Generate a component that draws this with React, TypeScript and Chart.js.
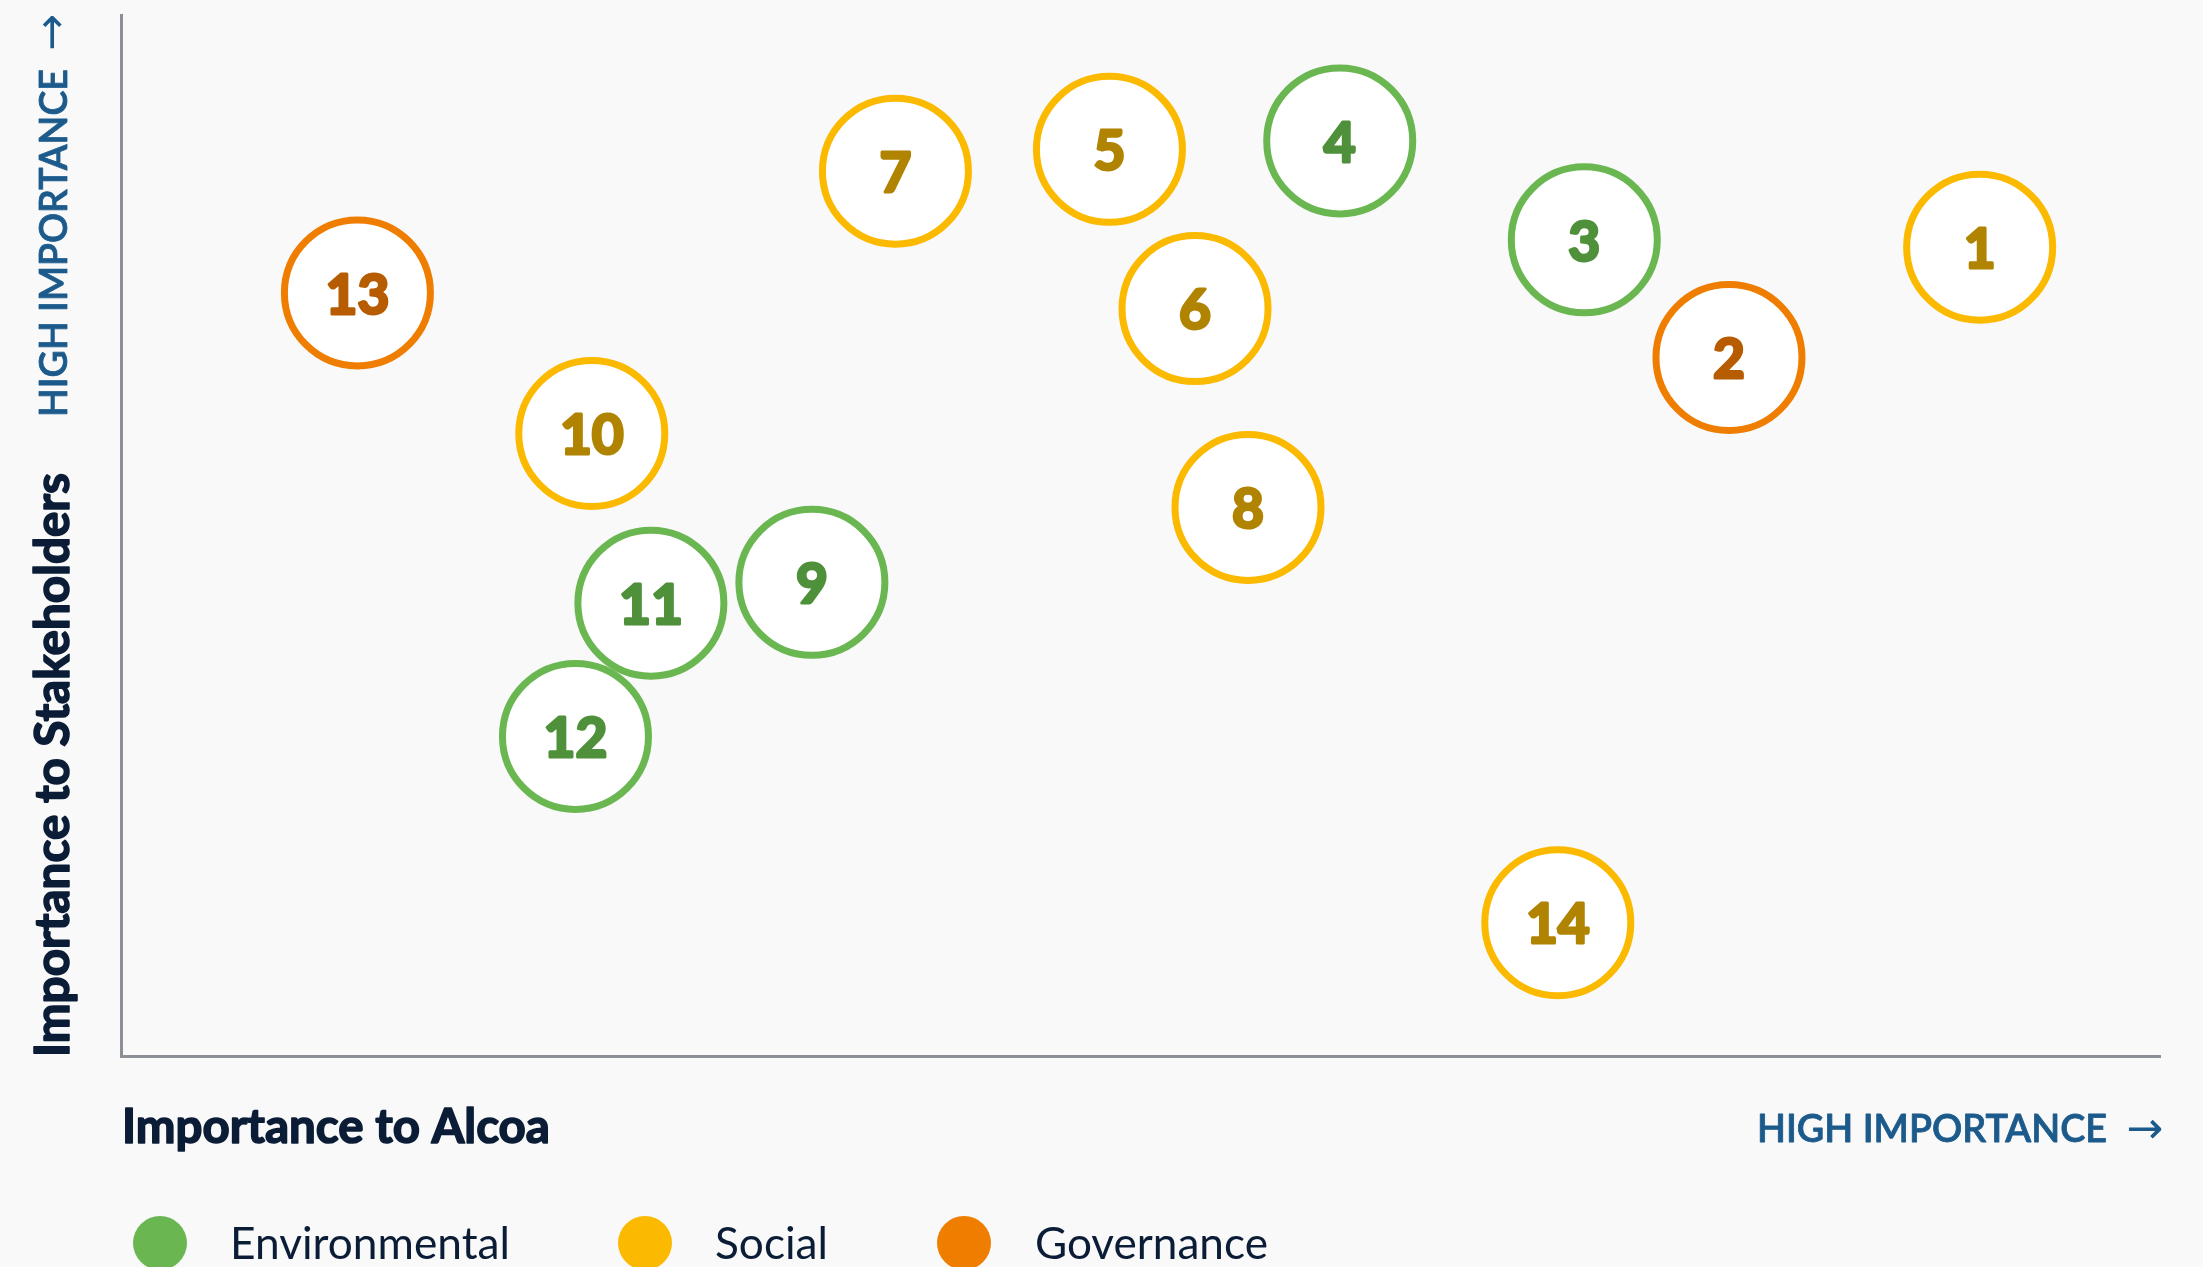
import React, { useEffect, useRef } from "react";
import { Chart, registerables } from "chart.js";

Chart.register(...registerables);

// ---- data ----
const topicIds = ["1", "2", "3", "4", "5", "6", "7", "8", "9", "10", "11", "12", "13", "14"];
const importanceToAlcoa = [91.2, 78.9, 71.8, 59.8, 48.5, 52.7, 38.0, 55.3, 33.9, 23.1, 26.0, 22.3, 11.6, 70.5];
const importanceToStakeholders = [77.7, 67.1, 78.4, 87.9, 87.1, 71.8, 85.0, 52.7, 45.5, 59.8, 43.5, 30.7, 73.3, 12.8];
const topicCategory = [
  "Social", "Governance", "Environmental", "Environmental", "Social", "Social", "Social",
  "Social", "Environmental", "Social", "Environmental", "Environmental", "Governance", "Social",
];
const categories = ["Environmental", "Social", "Governance"];
const categoryColors = ["#6ab752", "#fbb900", "#ef7d00"];
const categoryTextColors = ["#4f913a", "#b08400", "#b75c00"];

const xAxisTitle = "Importance to Alcoa";
const yAxisTitle = "Importance to Stakeholders";
const highLabel = "HIGH IMPORTANCE";

const W = 2203;
const H = 1267;
const BG = "#f9f9f9";
const BLUE = "#1b5a8b";
const NAVY = "#0b1d36";

function fitFont(ctx: any, text: string, weight: string, family: string, target: number) {
  ctx.font = `${weight} 40px ${family}`;
  const w = ctx.measureText(text).width;
  const size = (40 * target) / w;
  ctx.font = `${weight} ${size.toFixed(2)}px ${family}`;
  return size;
}

function heavyText(ctx: any, text: string, x: number, y: number, stroke: number) {
  if (stroke > 0) {
    ctx.lineWidth = stroke;
    ctx.lineJoin = "round";
    ctx.strokeStyle = ctx.fillStyle;
    ctx.strokeText(text, x, y);
  }
  ctx.fillText(text, x, y);
}

const bubbleLabels = {
  id: "bubbleLabels",
  afterDatasetsDraw(chart: any) {
    const ctx = chart.ctx;
    ctx.save();
    ctx.textAlign = "center";
    ctx.textBaseline = "middle";
    ctx.font = "bold 55px Lato, 'Open Sans', sans-serif";
    chart.data.datasets.forEach((ds: any, di: number) => {
      const meta = chart.getDatasetMeta(di);
      ctx.fillStyle = categoryTextColors[di];
      meta.data.forEach((el: any, i: number) => {
        heavyText(ctx, ds.ids[i], el.x, el.y + 3, 3);
      });
    });
    ctx.restore();
  },
};

const decorations = {
  id: "decorations",
  beforeDraw(chart: any) {
    const ctx = chart.ctx;
    ctx.save();
    ctx.fillStyle = BG;
    ctx.fillRect(0, 0, chart.width, chart.height);
    ctx.restore();
  },
  afterDraw(chart: any) {
    const ctx = chart.ctx;
    const area = chart.chartArea;
    ctx.save();
    // y-axis high importance (rotated)
    ctx.save();
    ctx.translate(55, 417);
    ctx.rotate(-Math.PI / 2);
    ctx.textBaseline = "middle";
    ctx.textAlign = "left";
    ctx.fillStyle = BLUE;
    fitFont(ctx, highLabel, "600", "Lato, sans-serif", 348);
    heavyText(ctx, highLabel, 0, 0, 0.8);
    ctx.font = "44px 'DejaVu Sans', sans-serif";
    ctx.fillText("\u2192", 366, 0);
    ctx.restore();

    // y-axis title (rotated)
    ctx.save();
    ctx.translate(69, area.bottom + 1);
    ctx.rotate(-Math.PI / 2);
    ctx.textBaseline = "alphabetic";
    ctx.textAlign = "left";
    ctx.fillStyle = NAVY;
    fitFont(ctx, yAxisTitle, "bold", "Lato, sans-serif", 584);
    heavyText(ctx, yAxisTitle, 0, 0, 1.6);
    ctx.restore();

    // x-axis title
    ctx.textBaseline = "alphabetic";
    ctx.textAlign = "left";
    ctx.fillStyle = NAVY;
    fitFont(ctx, xAxisTitle, "bold", "Lato, sans-serif", 428);
    heavyText(ctx, xAxisTitle, 122, 1143, 1.6);

    // x-axis high importance
    ctx.fillStyle = BLUE;
    ctx.font = "44px 'DejaVu Sans', sans-serif";
    ctx.textAlign = "right";
    ctx.fillText("\u2192", 2163, 1143);
    ctx.textAlign = "left";
    fitFont(ctx, highLabel, "600", "Lato, sans-serif", 350);
    heavyText(ctx, highLabel, 1757, 1142, 0.8);

    // legend
    const legendCx = [160, 645, 964];
    const legendTx = [230, 715, 1035];
    const legendW = [280, 113, 233];
    ctx.textAlign = "left";
    ctx.textBaseline = "middle";
    categories.forEach((c, i) => {
      ctx.beginPath();
      ctx.arc(legendCx[i], 1243, 27, 0, Math.PI * 2);
      ctx.fillStyle = categoryColors[i];
      ctx.fill();
      ctx.fillStyle = NAVY;
      fitFont(ctx, c, "normal", "Lato, sans-serif", legendW[i]);
      ctx.fillText(c, legendTx[i], 1245);
    });
    ctx.restore();
  },
};

export default function App() {
  const ref = useRef<HTMLCanvasElement | null>(null);
  useEffect(() => {
    document.body.style.margin = "0";
    document.body.style.background = BG;
    const canvas = ref.current;
    if (!canvas) return;
    const datasets = categories.map((cat, ci) => {
      const idx = topicIds.map((_, i) => i).filter((i) => topicCategory[i] === cat);
      return {
        label: cat,
        ids: idx.map((i) => topicIds[i]),
        data: idx.map((i) => ({ x: importanceToAlcoa[i], y: importanceToStakeholders[i] })),
        backgroundColor: "#ffffff",
        borderColor: categoryColors[ci],
        borderWidth: 7,
        radius: 73,
        hoverRadius: 0,
        clip: false as any,
      };
    });
    const chart = new Chart(canvas, {
      type: "bubble",
      data: { datasets: datasets as any },
      options: {
        responsive: false,
        animation: false,
        devicePixelRatio: 1,
        layout: { autoPadding: false, padding: { left: 121, top: 15, right: 44, bottom: 211 } },
        plugins: { legend: { display: false }, tooltip: { enabled: false }, title: { display: false } },
        events: [],
        scales: {
          x: {
            type: "linear",
            min: 0,
            max: 100,
            ticks: { display: false },
            grid: { display: false, drawTicks: false, tickLength: 0, lineWidth: 3 },
            border: { display: true, color: "#8b9097", width: 3 },
          },
          y: {
            type: "linear",
            min: 0,
            max: 100,
            ticks: { display: false },
            grid: { display: false, drawTicks: false, tickLength: 0, lineWidth: 3 },
            border: { display: true, color: "#8b9097", width: 3 },
          },
        },
      },
      plugins: [decorations, bubbleLabels],
    });
    return () => chart.destroy();
  }, []);
  return (
    <div style={{ width: W, height: H, background: BG }}>
      <canvas ref={ref} width={W} height={H} style={{ display: "block" }} />
    </div>
  );
}
